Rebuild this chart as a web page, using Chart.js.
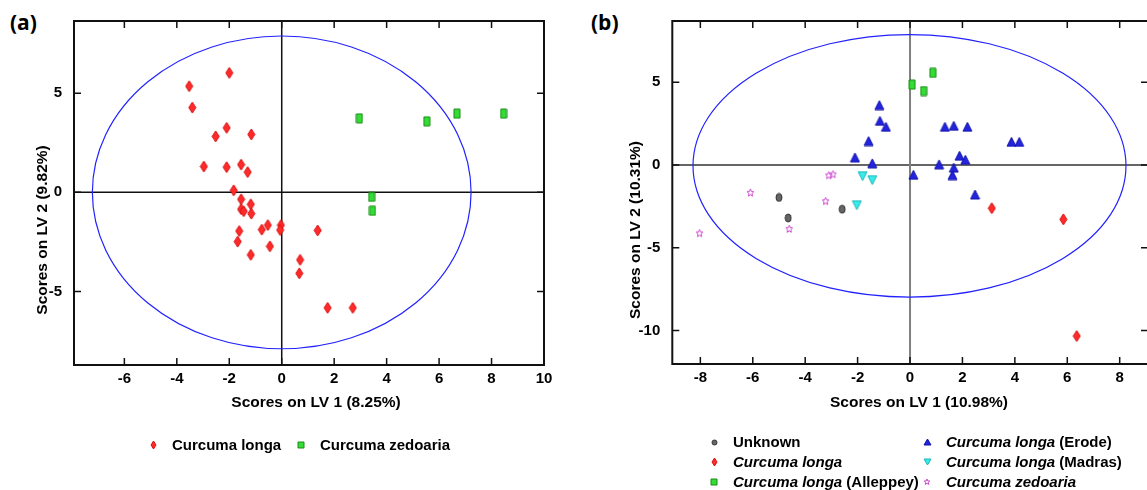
<!DOCTYPE html>
<html>
<head>
<meta charset="utf-8">
<script src="https://cdn.jsdelivr.net/npm/chart.js@4.4.0/dist/chart.umd.min.js"></script>
<style>
html, body { margin: 0; padding: 0; background: #fff; overflow: hidden; width: 1147px; height: 490px; }
body { position: relative; font-family: "Liberation Sans", Arial, sans-serif; }
canvas.plot { position: absolute; top: 0; }
.tag { position: absolute; font: bold 21px "Open Sans", sans-serif; color: #000; }
.leg { position: absolute; font-weight: bold; font-size: 15px; line-height: 20px; white-space: nowrap; color: #000; }
.mk { position: absolute; }
</style>
</head>
<body>
<div class="tag" style="left:10px;top:8px">(a)</div>
<div class="tag" style="left:591px;top:8px">(b)</div>
<canvas id="chartA" class="plot" width="580" height="490" style="left:0"></canvas>
<canvas id="chartB" class="plot" width="600" height="490" style="left:585px"></canvas>
<div id="legends"></div>
<script>
// ---- panel (a) ----
const aLongaX = [-3.53, -2.0, -3.41, -2.1, -2.52, -1.16, -2.97, -2.1, -1.55, -1.3, -1.83, -1.55, -1.18, -1.55, -1.45,
                 -1.16, -0.03, -0.06, -0.53, -0.76, -1.62, -1.68, -0.45, -1.18, 1.37, 0.7, 0.67, 1.75, 2.71];
const aLongaY = [5.35, 6.02, 4.27, 3.25, 2.82, 2.92, 1.3, 1.27, 1.4, 1.02, 0.1, -0.35, -0.6, -0.85, -0.95,
                 -1.07, -1.65, -1.9, -1.65, -1.88, -1.95, -2.48, -2.72, -3.15, -1.92, -3.4, -4.08, -5.82, -5.82];
const aZedoX = [2.96, 5.53, 6.68, 8.46, 3.43, 3.46];
const aZedoY = [3.73, 3.58, 3.97, 3.97, -0.23, -0.93];
const aXTicks = [-6, -4, -2, 0, 2, 4, 6, 8, 10];
const aYTicks = [-5, 0, 5];
const aEllipse = { cx: 0, cy: 0, rx: 7.22, ry: 7.88 };

// ---- panel (b) ----
const bUnknownX = [-5.0, -4.65, -2.59];
const bUnknownY = [-1.96, -3.2, -2.67];
const bLongaX = [3.12, 5.85, 6.36];
const bLongaY = [-2.61, -3.28, -10.33];
const bAlleppeyX = [0.87, 0.08, 0.52];
const bAlleppeyY = [5.57, 4.86, 4.47];
const bErodeX = [-1.17, -1.15, -0.92, -1.58, -2.1, -1.44, 0.13, 1.11, 1.33, 1.67, 2.19, 1.89, 2.11, 1.67, 1.62, 2.48, 3.87, 4.17];
const bErodeY = [3.62, 2.67, 2.31, 1.45, 0.46, 0.1, -0.59, 0.04, 2.31, 2.37, 2.31, 0.56, 0.32, -0.16, -0.61, -1.78, 1.4, 1.4];
const bMadrasX = [-1.81, -1.44, -2.03];
const bMadrasY = [-0.67, -0.91, -2.43];
const bZedoX = [-8.03, -6.09, -4.61, -3.22, -3.1, -2.94];
const bZedoY = [-4.13, -1.68, -3.87, -2.19, -0.63, -0.57];
const bXTicks = [-8, -6, -4, -2, 0, 2, 4, 6, 8];
const bYTicks = [-10, -5, 0, 5];
const bEllipse = { cx: -0.02, cy: -0.05, rx: 8.26, ry: 7.93 };

const zip = (xs, ys) => xs.map((x, i) => ({ x: x, y: ys[i] }));

// little marker pictures used as point styles
function sprite(shape, w, h, fill, stroke) {
    const c = document.createElement('canvas');
    c.width = w + 2; c.height = h + 2;
    const g = c.getContext('2d');
    const cx = c.width / 2, cy = c.height / 2, rx = w / 2, ry = h / 2;
    g.beginPath();
    if (shape === 'diamond') {
        g.moveTo(cx, cy - ry); g.lineTo(cx + rx, cy); g.lineTo(cx, cy + ry); g.lineTo(cx - rx, cy); g.closePath();
    } else if (shape === 'rect') {
        g.rect(cx - rx, cy - ry, w, h);
    } else if (shape === 'up') {
        g.moveTo(cx, cy - ry); g.lineTo(cx + rx, cy + ry); g.lineTo(cx - rx, cy + ry); g.closePath();
    } else if (shape === 'down') {
        g.moveTo(cx - rx, cy - ry); g.lineTo(cx + rx, cy - ry); g.lineTo(cx, cy + ry); g.closePath();
    } else if (shape === 'oval') {
        g.ellipse(cx, cy, rx, ry, 0, 0, Math.PI * 2);
    } else if (shape === 'star') {
        for (let i = 0; i < 10; i++) {
            const r = i % 2 ? 0.45 : 1;
            const a = -Math.PI / 2 + i * Math.PI / 5;
            const px = cx + Math.cos(a) * rx * r, py = cy + Math.sin(a) * ry * r;
            if (i) g.lineTo(px, py); else g.moveTo(px, py);
        }
        g.closePath();
    }
    if (fill) { g.fillStyle = fill; g.fill(); }
    g.lineWidth = 1; g.strokeStyle = stroke; g.stroke();
    return c;
}

const RED = ['#ff2a2a', '#d81010'];
const GREEN = ['#33dd33', '#1a8a1a'];
const BLUE = ['#2424e0', '#1212a8'];
const CYAN = ['#38ecec', '#1fb4b4'];
const GRAY = ['#666666', '#333333'];
const MAGENTA = [null, '#cc44cc'];

// frame, inside tick marks, zero lines, ellipse and axis titles
const framePlugin = {
    id: 'frame',
    beforeDatasetsDraw(chart, args, o) {
        const { ctx, chartArea: a, scales: { x, y } } = chart;
        ctx.save();
        ctx.beginPath(); ctx.rect(a.left, a.top, a.width, a.height); ctx.clip();
        const x0 = x.getPixelForValue(0), y0 = y.getPixelForValue(0);
        ctx.strokeStyle = o.hColor; ctx.lineWidth = o.hWidth;
        ctx.beginPath(); ctx.moveTo(a.left, y0); ctx.lineTo(a.right, y0); ctx.stroke();
        ctx.strokeStyle = o.vColor; ctx.lineWidth = o.vWidth;
        ctx.beginPath(); ctx.moveTo(x0, a.top); ctx.lineTo(x0, a.bottom); ctx.stroke();
        const e = o.ellipse;
        const cx = x.getPixelForValue(e.cx), cy = y.getPixelForValue(e.cy);
        const rx = x.getPixelForValue(e.cx + e.rx) - cx, ry = cy - y.getPixelForValue(e.cy + e.ry);
        ctx.beginPath(); ctx.ellipse(cx, cy, rx, ry, 0, 0, Math.PI * 2);
        ctx.strokeStyle = '#2222ff'; ctx.lineWidth = 1.2; ctx.stroke();
        ctx.restore();
    },
    afterDatasetsDraw(chart, args, o) {
        const { ctx, chartArea: a, scales: { x, y } } = chart;
        ctx.save();
        ctx.strokeStyle = '#111'; ctx.lineWidth = 2;
        ctx.strokeRect(a.left, a.top, a.width, a.height);
        ctx.lineWidth = 1.5;
        ctx.beginPath();
        x.ticks.forEach(t => {
            const p = x.getPixelForValue(t.value);
            ctx.moveTo(p, a.bottom); ctx.lineTo(p, a.bottom - 7);
            ctx.moveTo(p, a.top); ctx.lineTo(p, a.top + 7);
        });
        y.ticks.forEach(t => {
            const p = y.getPixelForValue(t.value);
            ctx.moveTo(a.left, p); ctx.lineTo(a.left + 7, p);
            ctx.moveTo(a.right, p); ctx.lineTo(a.right - 7, p);
        });
        ctx.stroke();
        ctx.fillStyle = '#000';
        ctx.font = 'bold 15.5px "Liberation Sans", Arial, sans-serif';
        ctx.textAlign = 'center'; ctx.textBaseline = 'middle';
        ctx.fillText(o.xTitle, o.xTitlePos[0], o.xTitlePos[1]);
        ctx.translate(o.yTitlePos[0], o.yTitlePos[1]);
        ctx.rotate(-Math.PI / 2);
        ctx.fillText(o.yTitle, 0, 0);
        ctx.restore();
    }
};

Chart.defaults.font.family = '"Liberation Sans", Arial, sans-serif';
Chart.defaults.color = '#000';

function axis(min, max, ticks, size, vertical) {
    return {
        type: 'linear', min: min, max: max,
        grid: { display: false, drawTicks: false },
        border: { display: false },
        afterBuildTicks: s => { s.ticks = ticks.map(v => ({ value: v })); },
        afterFit: s => { if (vertical) s.width = size; else s.height = size; },
        ticks: {
            padding: vertical ? 12 : 5,
            font: { size: 15, weight: 'bold' },
            callback: v => String(v),
        },
    };
}

function scatter(id, datasets, opts) {
    return new Chart(document.getElementById(id), {
        type: 'scatter',
        data: { datasets: datasets },
        options: {
            responsive: false,
            animation: false,
            events: [],
            layout: { padding: opts.padding },
            plugins: { legend: { display: false }, tooltip: { enabled: false }, frame: opts.frame },
            scales: { x: opts.x, y: opts.y },
        },
        plugins: [framePlugin],
    });
}

function ds(label, xs, ys, img) {
    return { label: label, data: zip(xs, ys), pointStyle: img, pointRadius: 5 };
}

scatter('chartA', [
    ds('Curcuma longa', aLongaX, aLongaY, sprite('diamond', 7, 11, RED[0], RED[1])),
    ds('Curcuma zedoaria', aZedoX, aZedoY, sprite('rect', 6, 9, GREEN[0], GREEN[1])),
], {
    padding: { left: 0, top: 18, right: 36, bottom: 85 },
    x: axis(-7.92, 10, aXTicks, 40, false),
    y: axis(-8.7, 8.635, aYTicks, 74, true),
    frame: {
        ellipse: aEllipse, hColor: '#111', hWidth: 1.5, vColor: '#111', vWidth: 1.5,
        xTitle: 'Scores on LV 1 (8.25%)', xTitlePos: [316, 403],
        yTitle: 'Scores on LV 2 (9.82%)', yTitlePos: [43, 230],
    },
});

scatter('chartB', [
    ds('Unknown', bUnknownX, bUnknownY, sprite('oval', 6, 8, GRAY[0], GRAY[1])),
    ds('Curcuma longa', bLongaX, bLongaY, sprite('diamond', 7, 11, RED[0], RED[1])),
    ds('Curcuma longa (Alleppey)', bAlleppeyX, bAlleppeyY, sprite('rect', 6, 9, GREEN[0], GREEN[1])),
    ds('Curcuma longa (Erode)', bErodeX, bErodeY, sprite('up', 9, 9, BLUE[0], BLUE[1])),
    ds('Curcuma longa (Madras)', bMadrasX, bMadrasY, sprite('down', 9, 9, CYAN[0], CYAN[1])),
    ds('Curcuma zedoaria', bZedoX, bZedoY, sprite('star', 7, 8, MAGENTA[0], MAGENTA[1])),
], {
    padding: { left: 0, top: 15, right: 37, bottom: 86 },
    x: axis(-9.07, 9.08, bXTicks, 40, false),
    y: axis(-12.02, 8.7, bYTicks, 87.3, true),
    frame: {
        ellipse: bEllipse, hColor: '#333', hWidth: 1.5, vColor: '#808080', vWidth: 2,
        xTitle: 'Scores on LV 1 (10.98%)', xTitlePos: [334, 403],
        yTitle: 'Scores on LV 2 (10.31%)', yTitlePos: [51, 230],
    },
});

// ---- legends (html, so part of a label can be italic) ----
const legA = [
    { mk: sprite('diamond', 5, 8, RED[0], RED[1]), it: '', txt: 'Curcuma longa', x: 153, y: 445 },
    { mk: sprite('rect', 6, 6, GREEN[0], GREEN[1]), it: '', txt: 'Curcuma zedoaria', x: 301, y: 445 },
];
const legB = [
    { mk: sprite('oval', 5, 5, GRAY[0], GRAY[1]), it: '', txt: 'Unknown', x: 714, y: 442 },
    { mk: sprite('diamond', 5, 8, RED[0], RED[1]), it: 'Curcuma longa', txt: '', x: 714, y: 462 },
    { mk: sprite('rect', 6, 6, GREEN[0], GREEN[1]), it: 'Curcuma longa', txt: ' (Alleppey)', x: 714, y: 482 },
    { mk: sprite('up', 7, 6, BLUE[0], BLUE[1]), it: 'Curcuma longa', txt: ' (Erode)', x: 927, y: 442 },
    { mk: sprite('down', 7, 6, CYAN[0], CYAN[1]), it: 'Curcuma longa', txt: ' (Madras)', x: 927, y: 462 },
    { mk: sprite('star', 6, 6, MAGENTA[0], MAGENTA[1]), it: 'Curcuma zedoaria', txt: '', x: 927, y: 482 },
];
const host = document.getElementById('legends');
legA.concat(legB).forEach(e => {
    e.mk.className = 'mk';
    e.mk.style.left = (e.x - e.mk.width / 2) + 'px';
    e.mk.style.top = (e.y - e.mk.height / 2) + 'px';
    host.appendChild(e.mk);
    const t = document.createElement('div');
    t.className = 'leg';
    t.style.left = (e.x + 19) + 'px';
    t.style.top = (e.y - 10) + 'px';
    if (e.it) { const i = document.createElement('i'); i.textContent = e.it; t.appendChild(i); }
    t.appendChild(document.createTextNode(e.txt));
    host.appendChild(t);
});
</script>
</body>
</html>
